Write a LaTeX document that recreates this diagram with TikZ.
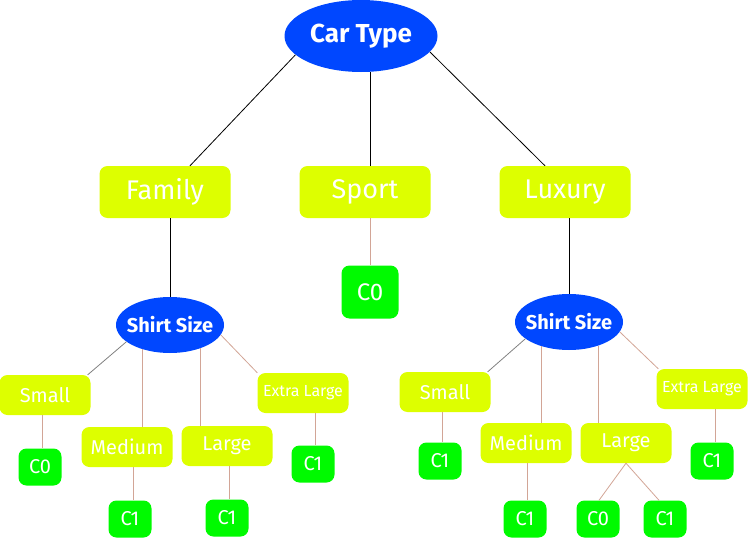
\documentclass[tikz,border=0pt]{standalone}
\usepackage{fontspec}
\setmainfont{Fira Sans}
\usepackage{tikz}
\usetikzlibrary{shapes.geometric}

\definecolor{splitblue}{RGB}{0,71,255}
\definecolor{valyellow}{RGB}{221,255,0}
\definecolor{leafgreen}{RGB}{0,250,0}
\definecolor{twigtan}{RGB}{210,165,150}

\tikzset{
  attr/.style = {ellipse, fill=splitblue, text=white, inner sep=0pt,
                 font=\bfseries},
  valbox/.style = {rectangle, rounded corners=8pt, fill=valyellow,
                   text=white, inner sep=0pt},
  leaf/.style = {rectangle, rounded corners=8pt, fill=leafgreen,
                 text=white, inner sep=0pt,
                 minimum width=43pt, minimum height=37pt,
                 font=\fontsize{20}{22}\selectfont},
  top/.style = {draw=black, line width=0.8pt},
  twig/.style = {draw=twigtan, line width=0.8pt},
  greytwig/.style = {draw=gray, line width=0.8pt}
}

\begin{document}
\begin{tikzpicture}[x=1pt, y=-1pt,
    big/.style = {valbox, minimum width=131pt, minimum height=52pt,
                  font=\fontsize{27}{30}\selectfont},
    small/.style = {valbox, minimum width=91pt, minimum height=40pt,
                    font=\fontsize{20}{22}\selectfont},
    sizeattr/.style = {attr, minimum width=108pt, minimum height=56pt,
                       inner xsep=-10pt,
                       font=\bfseries\fontsize{20}{22}\selectfont}
  ]
  \useasboundingbox (0,0) rectangle (748,538);

  % root and first level
  \node[attr, minimum width=153pt, minimum height=72pt,
        font=\bfseries\fontsize{26}{28}\selectfont] (car) at (361,36) {Car Type};
  \node[big] (family) at (165,192) {Family};
  \node[big] (sport)  at (365,192) {Sport};
  \node[big] (luxury) at (565,192) {Luxury};
  \node[leaf, minimum width=57pt, minimum height=53pt,
        font=\fontsize{24}{26}\selectfont] (sportC0) at (370,292) {C0};

  % left subtree
  \node[sizeattr] (shirtL) at (170,325) {Shirt Size};
  \node[small] (smallL) at (45,395)  {Small};
  \node[small] (medL)   at (127,447) {Medium};
  \node[small] (largeL) at (227,446) {Large};
  \node[small, font=\fontsize{16}{18}\selectfont] (xlL) at (303,393) {Extra Large};
  \node[leaf] (smallLC0) at (40,467)  {C0};
  \node[leaf] (medLC1)   at (130,519) {C1};
  \node[leaf] (largeLC1) at (227,518) {C1};
  \node[leaf] (xlLC1)    at (313,464) {C1};

  % right subtree
  \node[sizeattr] (shirtR) at (569,322) {Shirt Size};
  \node[small] (smallR) at (445,392) {Small};
  \node[small] (medR)   at (526,443) {Medium};
  \node[small] (largeR) at (626,443) {Large};
  \node[small, font=\fontsize{16}{18}\selectfont] (xlR) at (702,389) {Extra Large};
  \node[leaf] (smallRC1)  at (440,461) {C1};
  \node[leaf] (medRC1)    at (525,519) {C1};
  \node[leaf] (largeRC0)  at (598,519) {C0};
  \node[leaf] (largeRC1)  at (665,519) {C1};
  \node[leaf] (xlRC1)     at (712,461) {C1};

  % connectors
  \path[top] (car.196) -- ([xshift=25pt]family.north);
  \path[top] (car.south -| sportC0) -- (sport.north -| sportC0);
  \path[top] (car.-13) -- ([xshift=-20pt]luxury.north);
  \path[twig] (sport.south -| sportC0) -- (sportC0.north);
  \path[top] (family.south -| shirtL) -- (shirtL.north);
  \path[top] (luxury.south -| shirtR) -- (shirtR.north);

  \path[greytwig] (shirtL.201) -- ([xshift=-3pt]smallL.north east);
  \path[twig] (shirtL.222) -- (shirtL.222 |- medL.north);
  \path[twig] (shirtL.-37) -- (shirtL.-37 |- largeL.north);
  \path[twig] (shirtL.-11) -- (xlL.north west);
  \path[twig] ([xshift=2pt]smallLC0.north |- smallL.south) -- ([xshift=2pt]smallLC0.north);
  \path[twig] ([xshift=3pt]medLC1.north |- medL.south) -- ([xshift=3pt]medLC1.north);
  \path[twig] ([xshift=2pt]largeLC1.north |- largeL.south) -- ([xshift=2pt]largeLC1.north);
  \path[twig] ([xshift=2pt]xlLC1.north |- xlL.south) -- ([xshift=2pt]xlLC1.north);

  \path[greytwig] (shirtR.201) -- ([xshift=-3pt]smallR.north east);
  \path[twig] (shirtR.221) -- (shirtR.221 |- medR.north);
  \path[twig] (shirtR.-39) -- (shirtR.-39 |- largeR.north);
  \path[twig] (shirtR.-11) -- ([xshift=2pt]xlR.north west);
  \path[twig] ([xshift=2pt]smallRC1.north |- smallR.south) -- ([xshift=2pt]smallRC1.north);
  \path[twig] ([xshift=2pt]medRC1.north |- medR.south) -- ([xshift=2pt]medRC1.north);
  \path[twig] (largeR.south) -- ([xshift=1pt]largeRC0.north);
  \path[twig] (largeR.south) -- ([xshift=-6pt]largeRC1.north);
  \path[twig] ([xshift=3pt]xlRC1.north |- xlR.south) -- ([xshift=3pt]xlRC1.north);
\end{tikzpicture}
\end{document}
